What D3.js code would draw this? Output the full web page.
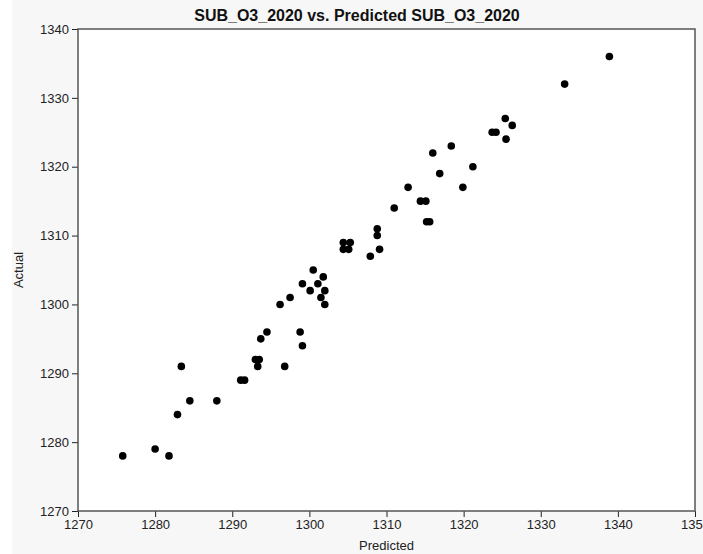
<!DOCTYPE html>
<html><head><meta charset="utf-8">
<script src="https://cdn.jsdelivr.net/npm/d3@7"></script>
<style>
html,body{margin:0;padding:0;background:#fff;}
svg{display:block;}
</style></head><body>
<script>
const titleText = "SUB_O3_2020 vs. Predicted SUB_O3_2020";
const xLabel = "Predicted";
const yLabel = "Actual";
const xTicks = [1270,1280,1290,1300,1310,1320,1330,1340,1350];
const yTicks = [1270,1280,1290,1300,1310,1320,1330,1340];
const predicted = [1275.8,1280.0,1281.8,1283.4,1282.9,1284.5,1288.0,1291.1,1291.6,1293.7,1294.5,
  1293.0,1293.5,1293.3,1296.8,1296.2,1297.5,1298.8,1299.1,1299.1,1300.5,1300.1,1301.1,1301.8,
  1301.5,1302.0,1302.0,1304.4,1305.3,1304.4,1305.1,1308.8,1308.8,1309.1,1307.9,1311.0,1312.8,
  1314.4,1315.1,1315.2,1315.6,1316.0,1316.9,1318.4,1319.9,1321.2,1323.7,1324.2,1325.5,1326.3,
  1325.4,1333.1,1338.9];
const actual = [1278,1279,1278,1291,1284,1286,1286,1289,1289,1295,1296,
  1292,1292,1291,1291,1300,1301,1296,1294,1303,1305,1302,1303,1304,
  1301,1302,1300,1309,1309,1308,1308,1311,1310,1308,1307,1314,1317,
  1315,1315,1312,1312,1322,1319,1323,1317,1320,1325,1325,1324,1326,
  1327,1332,1336];

const W=703,H=554;
const m={l:78,r:695,t:29,b:511};
const svg=d3.select("body").append("svg").attr("width",W).attr("height",H);
svg.append("rect").attr("x",12).attr("y",0).attr("width",W-12).attr("height",H).attr("fill","#f7f7f7");
svg.append("rect").attr("x",m.l).attr("y",m.t).attr("width",m.r-m.l).attr("height",m.b-m.t).attr("fill","#fff");

const x=d3.scaleLinear().domain([1270,1350]).range([m.l,m.r]);
const y=d3.scaleLinear().domain([1270,1340]).range([m.b,m.t]);

const font="'Liberation Sans', Arial, sans-serif";
const xa=svg.append("g").attr("transform",`translate(0,${m.b})`)
  .call(d3.axisBottom(x).tickValues(xTicks).tickFormat(d3.format("d")).tickSize(6).tickPadding(3));
const ya=svg.append("g").attr("transform",`translate(${m.l},0)`)
  .call(d3.axisLeft(y).tickValues(yTicks).tickFormat(d3.format("d")).tickSize(6).tickPadding(3));
[xa,ya].forEach(a=>{
  a.select(".domain").remove();
  a.selectAll("line").attr("stroke","#222");
  a.selectAll("text").attr("fill","#222").style("font-family",font).style("font-size","13px");
});
svg.append("rect").attr("x",m.l).attr("y",m.t).attr("width",m.r-m.l).attr("height",m.b-m.t)
  .attr("fill","none").attr("stroke","#555").attr("stroke-width",1.5);

svg.append("g").selectAll("circle").data(predicted).join("circle")
  .attr("cx",(d)=>x(d)).attr("cy",(d,i)=>y(actual[i])).attr("r",3.8).attr("fill","#000");

svg.append("text").attr("x",357).attr("y",21).attr("text-anchor","middle")
  .style("font-family",font).style("font-size","16px").style("font-weight","bold").attr("fill","#111").text(titleText);
svg.append("text").attr("x",(m.l+m.r)/2).attr("y",550).attr("text-anchor","middle")
  .style("font-family",font).style("font-size","13px").attr("fill","#222").text(xLabel);
svg.append("text").attr("transform",`translate(23,${(m.t+m.b)/2}) rotate(-90)`).attr("text-anchor","middle")
  .style("font-family",font).style("font-size","13px").attr("fill","#222").text(yLabel);
</script>
</body></html>
